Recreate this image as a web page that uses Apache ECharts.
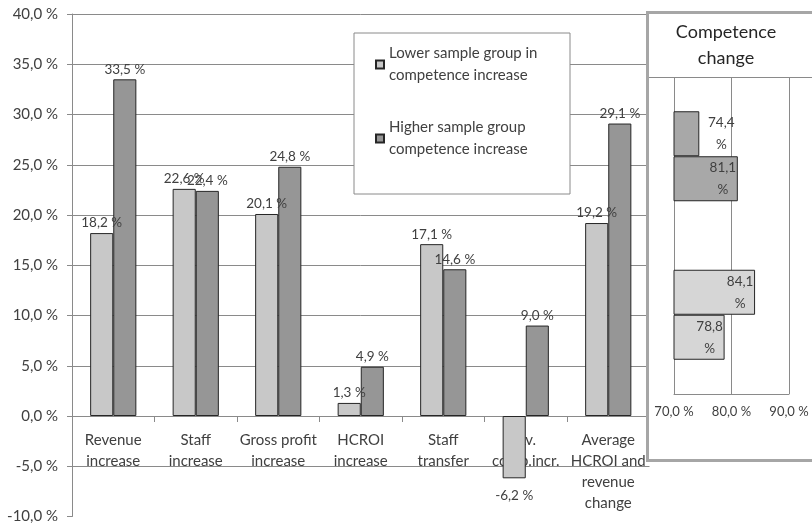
<!DOCTYPE html>
<html>
<head>
<meta charset="utf-8">
<script src="https://cdn.jsdelivr.net/npm/echarts@6/dist/echarts.min.js"></script>
<style>
  html, body { margin: 0; padding: 0; background: #fff; overflow: hidden; }
  #main { position: absolute; left: 0; top: 0; width: 812px; height: 526px; }
  #inset { position: absolute; left: 646px; top: 11px; width: 172px; height: 451px;
           border: 3px solid #a6a6a6; box-sizing: border-box; background: #fff; }
  #insetChart { width: 166px; height: 445px; }
</style>
</head>
<body>
<div id="main"></div>
<div id="inset"><div id="insetChart"></div></div>
<script>
// main chart data
const categories = [
  "Revenue\nincrease",
  "Staff\nincrease",
  "Gross profit\nincrease",
  "HCROI\nincrease",
  "Staff\ntransfer",
  "Av.\ncomp.incr.",
  "Average\nHCROI and\nrevenue\nchange",
];
const lowerGroup = [18.2, 22.6, 20.1, 1.3, 17.1, -6.2, 19.2];
const higherGroup = [33.5, 22.4, 24.8, 4.9, 14.6, 9.0, 29.1];
const seriesNames = [
  "Lower sample group in\ncompetence increase",
  "Higher sample group\ncompetence increase",
];
const yMin = -10, yMax = 40, yStep = 5;

// inset "Competence change" data
const insetCategories = ["Lower sample group", "Higher sample group"];
const insetUpper = [84.1, 74.4];
const insetLower = [78.8, 81.1];
const insetMin = 70, insetMax = 90, insetStep = 10;

const FONT = "Lato";
const TEXT = "#404040";
const GRID = "#8a8a8a";
const LIGHT = "#c8c8c8";
const DARK = "#969696";
const INSET_LIGHT = "#d6d6d6";
const INSET_DARK = "#a8a8a8";
const BORDER = "#262626";

const GRID_TOP = 14, GRID_H = 502.5;
// category axis sits on the zero line
const zeroOffset = -GRID_H * (0 - yMin) / (yMax - yMin);

const pct = (v) => v.toFixed(1).replace(".", ",") + " %";

const yTickCount = (yMax - yMin) / yStep + 1;
const splitColors = [];
for (let i = 0; i < yTickCount; i++) splitColors.push(i === 0 ? "rgba(0,0,0,0)" : GRID);

const barData = (arr) =>
  arr.map((v) => (v < 0 ? { value: v, label: { position: "bottom", distance: 10 } } : v));

const valueLabel = {
  show: true,
  position: "top",
  distance: 3,
  fontFamily: FONT,
  fontSize: 13.5,
  color: TEXT,
  formatter: (p) => pct(p.value),
};

const main = echarts.init(document.getElementById("main"));
main.setOption({
  animation: false,
  grid: { left: 72, top: GRID_TOP, width: 577.5, height: GRID_H, outerBoundsMode: "none" },
  legend: {
    left: 354,
    top: 33,
    orient: "vertical",
    padding: [0, 9, 24, 21],
    itemGap: 11,
    itemWidth: 8,
    itemHeight: 8,
    icon: "rect",
    backgroundColor: "#fff",
    borderColor: GRID,
    borderWidth: 1,
    textStyle: {
      fontFamily: FONT,
      fontSize: 15,
      color: TEXT,
      lineHeight: 22,
      width: 172,
      padding: [19, 0, 0, 0],
    },
    data: seriesNames,
  },
  xAxis: {
    type: "category",
    data: categories,
    position: "bottom",
    offset: zeroOffset,
    axisLine: { show: true, onZero: false, lineStyle: { color: GRID } },
    axisTick: { show: true, length: 6, lineStyle: { color: GRID } },
    axisLabel: {
      interval: 0,
      margin: 14,
      fontFamily: FONT,
      fontSize: 15,
      lineHeight: 21,
      color: TEXT,
    },
  },
  yAxis: {
    type: "value",
    min: yMin,
    max: yMax,
    interval: yStep,
    axisLine: { show: true, lineStyle: { color: GRID } },
    axisTick: { show: true, length: 5, lineStyle: { color: GRID } },
    splitLine: { lineStyle: { color: splitColors } },
    axisLabel: {
      margin: 14,
      fontFamily: FONT,
      fontSize: 15,
      color: TEXT,
      formatter: pct,
    },
  },
  series: [
    {
      name: seriesNames[0],
      type: "bar",
      data: barData(lowerGroup),
      barGap: "0%",
      barCategoryGap: "44%",
      itemStyle: { color: LIGHT, borderColor: BORDER, borderWidth: 1 },
      label: valueLabel,
    },
    {
      name: seriesNames[1],
      type: "bar",
      data: barData(higherGroup),
      itemStyle: { color: DARK, borderColor: BORDER, borderWidth: 1 },
      label: valueLabel,
    },
  ],
});

// inset: short bars get their label just past the bar end
const insetData = (arr) =>
  arr.map((v) =>
    v - insetMin < 6
      ? { value: v, label: { position: "right", distance: 0, align: "center", offset: [22, 0] } }
      : { value: v, label: { position: "insideRight", distance: 0, align: "center", offset: [-15, 0] } }
  );

const insetLabel = {
  show: true,
  fontFamily: FONT,
  fontSize: 13.5,
  lineHeight: 22,
  color: TEXT,
  formatter: (p) => p.value.toFixed(1).replace(".", ",") + "\n%",
};
const insetItem = {
  color: (p) => (p.dataIndex === 0 ? INSET_LIGHT : INSET_DARK),
  borderColor: BORDER,
  borderWidth: 1,
};

const inset = echarts.init(document.getElementById("insetChart"));
inset.setOption({
  animation: false,
  title: {
    text: "Competence\nchange",
    left: 77,
    top: 5,
    textAlign: "center",
    padding: 0,
    textStyle: { fontFamily: FONT, fontSize: 18, fontWeight: "normal", color: "#262626", lineHeight: 26 },
  },
  graphic: [
    {
      type: "line",
      shape: { x1: 0, y1: 63.5, x2: 166, y2: 63.5 },
      style: { stroke: GRID, lineWidth: 1 },
    },
  ],
  grid: { left: 25, top: 63, width: 115, height: 317, outerBoundsMode: "none" },
  xAxis: {
    type: "value",
    min: insetMin,
    max: insetMax,
    interval: insetStep,
    axisLine: { show: true, lineStyle: { color: GRID } },
    axisTick: { show: false },
    splitLine: { show: true, lineStyle: { color: GRID } },
    axisLabel: { margin: 11, fontFamily: FONT, fontSize: 13, color: TEXT, formatter: pct },
  },
  yAxis: {
    type: "category",
    data: insetCategories,
    axisLine: { show: false },
    axisTick: { show: false },
    axisLabel: { show: false },
  },
  series: [
    { type: "bar", data: insetData(insetUpper), barWidth: 45, barGap: "0%", itemStyle: insetItem, label: insetLabel },
    { type: "bar", data: insetData(insetLower), barWidth: 45, itemStyle: insetItem, label: insetLabel },
  ],
});
</script>
</body>
</html>
